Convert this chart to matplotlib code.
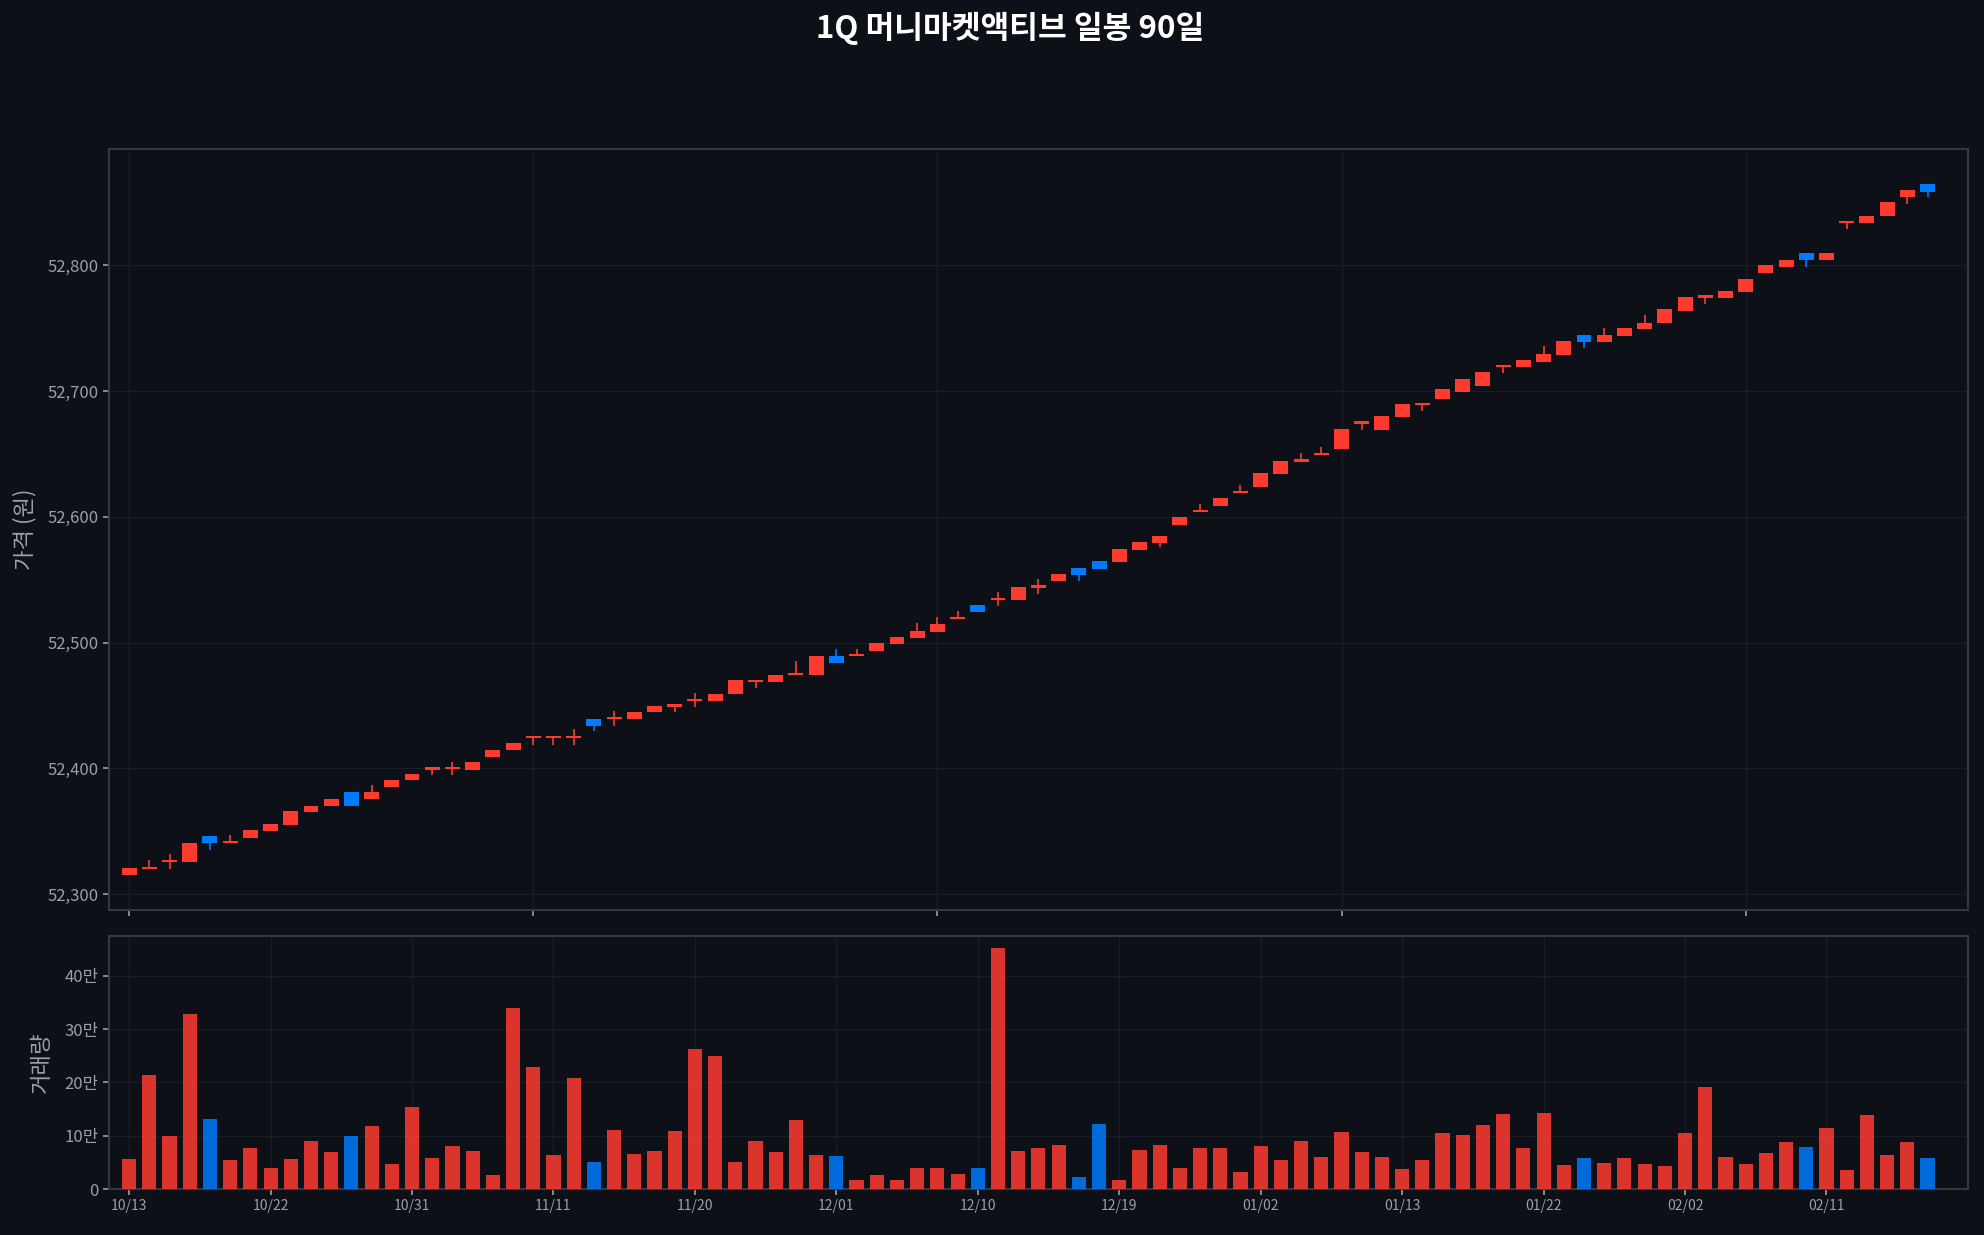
import numpy as np
import matplotlib
matplotlib.use("Agg")
import matplotlib.pyplot as plt
from matplotlib.ticker import FuncFormatter

plt.rcParams['font.family'] = ['Noto Sans CJK KR', 'DejaVu Sans']
plt.rcParams['axes.unicode_minus'] = False

# ---- data (90 trading days) ----
opens = [52315, 52320, 52325.5, 52325.5, 52346, 52340.5, 52345, 52350, 52355, 52365,
         52370, 52381, 52375.5, 52385, 52390.5, 52399, 52399.5, 52399, 52409, 52414.5,
         52424, 52424, 52424, 52439.5, 52439, 52439, 52444.5, 52449, 52454, 52454,
         52459, 52469, 52469, 52474, 52474, 52489.5, 52489, 52493.5, 52499, 52504,
         52508.5, 52519, 52530, 52534, 52534, 52543.5, 52549, 52559.5, 52565, 52564.5,
         52574, 52579.5, 52593.5, 52604, 52608.5, 52619, 52624, 52634, 52643.5, 52649,
         52654, 52674, 52669, 52679.5, 52689, 52693.5, 52699, 52704, 52719, 52719,
         52723.5, 52728.5, 52744.5, 52739, 52743.5, 52749, 52754, 52764, 52774, 52774,
         52778.5, 52793.5, 52799, 52809.5, 52804, 52834, 52834, 52839, 52854, 52865]
closes = [52321, 52322, 52327, 52341, 52340.5, 52342, 52351, 52355.5, 52366, 52370.5,
          52376, 52370, 52381, 52391, 52395.5, 52401, 52401, 52405, 52415, 52420,
          52426, 52426, 52426, 52434, 52441, 52445, 52450, 52451, 52455.5, 52459.5,
          52470, 52470.5, 52474.5, 52476, 52489.5, 52484, 52491, 52500, 52504.5, 52509.5,
          52515, 52520.5, 52524, 52535.5, 52544.5, 52546, 52554.5, 52554, 52558.5, 52574.5,
          52580, 52585, 52600, 52605.5, 52615, 52620.5, 52635, 52644.5, 52646, 52651,
          52670, 52676, 52680, 52689.5, 52690.5, 52701.5, 52709.5, 52715, 52720.5, 52724.5,
          52729.5, 52739.5, 52739, 52744.5, 52750, 52754.5, 52765, 52774.5, 52776, 52779.5,
          52789.5, 52800, 52804.5, 52804, 52809.5, 52835.5, 52839.5, 52850, 52859.5, 52858.5]
highs = [52321, 52327, 52332, 52341, 52346, 52347, 52351, 52355.5, 52366, 52370.5,
         52376, 52381, 52386.5, 52391, 52395.5, 52401, 52405.5, 52405, 52415, 52420,
         52426, 52426, 52431, 52439.5, 52446, 52445, 52450, 52451, 52460, 52459.5,
         52470, 52470.5, 52474.5, 52485.5, 52489.5, 52495, 52495, 52500, 52504.5, 52516,
         52520.5, 52525.5, 52530, 52540.5, 52544.5, 52551, 52554.5, 52559.5, 52565, 52574.5,
         52580, 52585, 52600, 52610.5, 52615, 52625.5, 52635, 52644.5, 52651, 52655.5,
         52670, 52676, 52680, 52689.5, 52690.5, 52701.5, 52709.5, 52715, 52720.5, 52724.5,
         52735.5, 52739.5, 52744.5, 52750.5, 52750, 52760.5, 52765, 52774.5, 52776, 52779.5,
         52789.5, 52800, 52804.5, 52809.5, 52809.5, 52835.5, 52839.5, 52850, 52859.5, 52865]
lows = [52315, 52320, 52320, 52325.5, 52335, 52340.5, 52345, 52350, 52355, 52365,
        52370, 52370, 52375.5, 52385, 52390.5, 52394.5, 52394.5, 52399, 52409, 52414.5,
        52419, 52419, 52419, 52429.5, 52434, 52439, 52444.5, 52444.5, 52449, 52454,
        52459, 52464, 52469, 52474, 52474, 52484, 52489, 52493.5, 52499, 52504,
        52508.5, 52519, 52524, 52529.5, 52534, 52539, 52549, 52549, 52558.5, 52564.5,
        52574, 52576, 52593.5, 52604, 52608.5, 52619, 52624, 52634, 52643.5, 52649,
        52654, 52669, 52669, 52679.5, 52684, 52693.5, 52699, 52704, 52714, 52719,
        52723.5, 52728.5, 52734, 52739, 52743.5, 52749, 52754, 52764, 52769, 52774,
        52778.5, 52793.5, 52799, 52799, 52804, 52828.5, 52834, 52839, 52849, 52854]
volumes = [56000, 214000, 99000, 328000, 131000, 54000, 77000, 39000, 56000, 90000,
           69000, 99000, 118000, 47000, 154000, 58000, 81000, 71000, 26000, 339000,
           229000, 64000, 208000, 51000, 111000, 66000, 71000, 109000, 262000, 249000,
           51000, 90000, 69000, 129000, 64000, 62000, 17000, 26000, 17000, 39000,
           39000, 28000, 39000, 452000, 71000, 77000, 82000, 22000, 122000, 17000,
           73000, 82000, 39000, 77000, 77000, 32000, 81000, 54000, 90000, 60000,
           107000, 69000, 60000, 37000, 54000, 105000, 101000, 120000, 141000, 77000,
           142000, 45000, 58000, 49000, 58000, 47000, 43000, 105000, 191000, 60000,
           47000, 67000, 88000, 79000, 114000, 36000, 139000, 64000, 88000, 58000]
date_labels = ['10/13', '10/22', '10/31', '11/11', '11/20', '12/01', '12/10',
               '12/19', '01/02', '01/13', '01/22', '02/02', '02/11']

# 색상
bg = '#0d1117'
up_color = '#FF3B30'
down_color = '#007AFF'
grid_color = '#30363d'
spine_color = '#333740'
text_color = '#9aa0a6'

o = np.array(opens)
c = np.array(closes)
x = np.arange(len(o))
colors = [up_color if cc >= oo else down_color for oo, cc in zip(o, c)]

fig = plt.figure(figsize=(19.84, 12.35), dpi=100, facecolor=bg)
ax = fig.add_axes([0.0549, 0.2632, 0.937, 0.6162])
ax_v = fig.add_axes([0.0549, 0.0372, 0.937, 0.2049])

for a in (ax, ax_v):
    a.set_facecolor(bg)
    for s in a.spines.values():
        s.set_color(spine_color)
        s.set_linewidth(1.5)
    a.grid(True, color=grid_color, alpha=0.35, linewidth=0.9)
    a.set_axisbelow(True)
    a.tick_params(colors=text_color, labelsize=12, length=4, width=1.2)

# 캔들
ax.vlines(x, lows, highs, colors=colors, linewidth=1.4, alpha=0.85, zorder=2)
ax.bar(x, np.abs(c - o), bottom=np.minimum(o, c), width=0.74, color=colors,
       linewidth=0, zorder=3)
ax.set_xlim(-1, len(x) + 1)
rng = max(highs) - min(lows)
ax.set_ylim(min(lows) - 0.05 * rng, max(highs) + 0.05 * rng)
ax.yaxis.set_major_formatter(FuncFormatter(lambda v, p: f'{v:,.0f}'))
ax.tick_params(axis='x', labelbottom=False)
ax.set_ylabel('가격 (원)', color=text_color, fontsize=16, labelpad=8)

# 거래량
ax_v.bar(x, volumes, width=0.7, color=colors, alpha=0.85, linewidth=0, zorder=3)
ax_v.set_xlim(-1, len(x) + 1)
ax_v.set_ylim(0, max(volumes) * 1.05)
ax_v.set_yticks([0, 100000, 200000, 300000, 400000])
ax_v.yaxis.set_major_formatter(
    FuncFormatter(lambda v, p: '0' if v == 0 else f'{int(v / 10000)}만'))
ax_v.set_xticks(x[::7])
ax_v.set_xticklabels(date_labels, fontsize=10)
ax_v.set_ylabel('거래량', color=text_color, fontsize=16, labelpad=8)

fig.suptitle('1Q 머니마켓액티브 일봉 90일', color='white', fontsize=22.5,
             fontweight='bold', x=0.509, y=0.977, va='center')

fig.savefig('out.png', dpi=100, facecolor=bg)
